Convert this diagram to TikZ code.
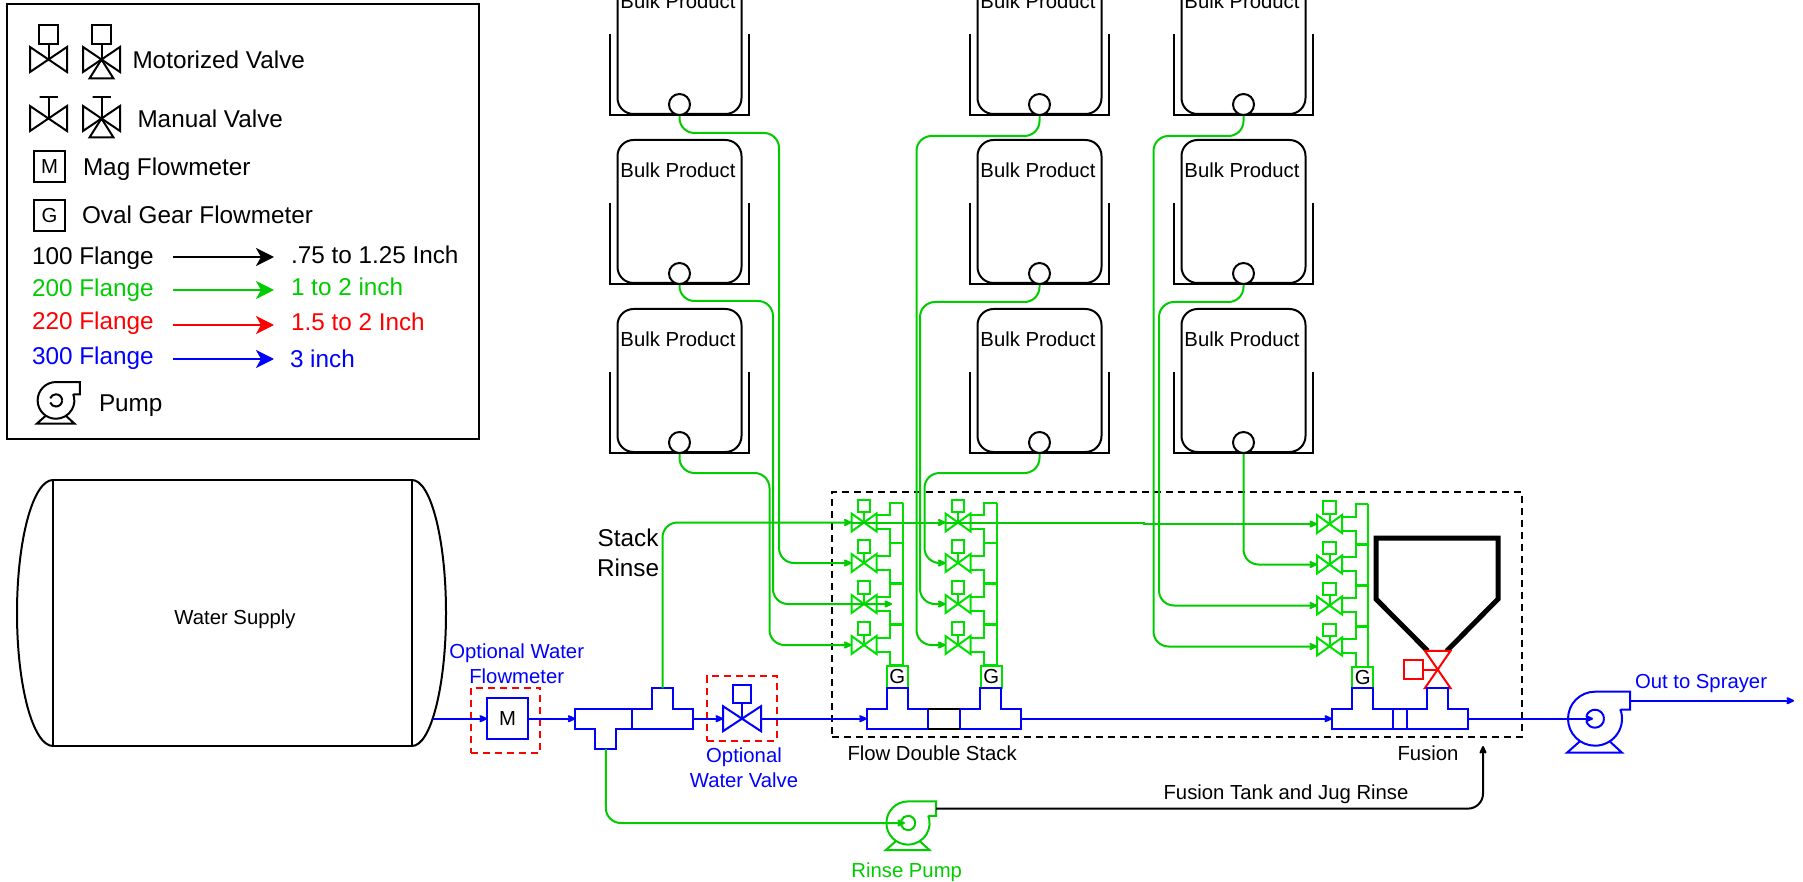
\documentclass[tikz,border=0pt]{standalone}
\usepackage{fontspec}
\setmainfont{Liberation Sans}
\usetikzlibrary{arrows.meta}
\usetikzlibrary{positioning}
\definecolor{pg}{rgb}{0,.8,0}
\definecolor{sg}{rgb}{0,.88,0}
\tikzstyle{txt}=[inner sep=0, outer sep=0, align=center, font=\fontsize{20.3}{25}\selectfont]
\tikzstyle{bigtxt}=[inner sep=0, outer sep=0, align=center, font=\fontsize{24.3}{30}\selectfont]
\tikzstyle{line}=[line width=2pt]
\tikzstyle{pipe}=[line width=2pt, rounded corners=15pt, -{Stealth[length=10pt,width=9pt,inset=2.5pt,round=false]}]
\tikzstyle{legendpipe}=[line width=2pt, -{Stealth[length=18pt,width=18pt,inset=5pt]}]
\tikzstyle{valvebox}=[inner sep=0, outer sep=0, minimum width=25pt, minimum height=18pt]
\tikzstyle{legendvalve}=[inner sep=0, outer sep=0, minimum width=37pt, minimum height=25pt]
\tikzstyle{square}=[draw, line width=2pt, inner sep=0, outer sep=0]
\tikzstyle{optbox}=[draw=red, line width=2pt, dash pattern=on 7pt off 5pt, inner sep=0]
\tikzstyle{bulktank}=[draw, line width=2pt, rounded corners=16pt, inner sep=0, minimum width=124pt, minimum height=143pt]

% name, colour
\newcommand{\drawvalve}[2]{
  \draw[line, #2] (#1.north west) -- (#1.south east) -- (#1.north east) -- (#1.south west) -- cycle;
}
% name, colour, square size, gap
\newcommand{\motorvalve}[4]{
  \drawvalve{#1}{#2}
  \node[square, draw=#2, minimum size=#3, above=#4 of #1.north] (#1m) {};
  \draw[line, #2] (#1m.south) -- (#1.center);
}
% name, dx, dy
\newcommand{\valvestack}[3]{
  \begin{scope}[shift={(#2,#3)}]
    \node[square, draw=sg, minimum width=20.7pt, minimum height=22pt] (g#1) at (897.2,676.5) {};
    \foreach \n/\y in {1/522.5, 2/563, 3/604, 4/645}{
      \node[valvebox] (v#1\n) at (864,\y) {};
      \motorvalve{v#1\n}{sg}{12.5pt}{1.5pt}
      \draw[line, sg] (876.5,\y-7.5) -| (890,\y-20) -- (902.7,\y-20);
      \draw[line, sg] (876.5,\y+6.5) -| (890,\y+20.3) -- (902.7,\y+20.3);
    }
    \draw[line, sg] (902.7,502.5) -- (902.7,665.5);
    \node[txt] (gt#1) at (g#1) {G};
  \end{scope}
}
% name, x, flip
\newcommand{\teepiece}[3]{
  \begin{scope}[shift={(#2,718.7)}, yscale=#3]
    \draw[line, blue, fill=white] (0,-9.8) -- (20,-9.8) -- (20,-30.3) -- (41,-30.3) -- (41,-9.8)
      -- (61,-9.8) -- (61,9.8) -- (0,9.8) -- cycle;
    \coordinate (#1w) at (0,0);
    \coordinate (#1e) at (61,0);
    \coordinate (#1t) at (30.5,-30.3);
  \end{scope}
}
% name, x, y, scale, colour
\newcommand{\pumpsym}[5]{
  \begin{scope}[shift={(#2,#3)}, scale=#4]
    \coordinate (#1) at (0,0);
    \coordinate (#1out) at (35,-18);
    \draw[line, #5] (35,-27) -- (0,-27) arc[start angle=90, end angle=380, radius=27pt]
      -- (25.4,-9) -- (35,-9) -- cycle;
    \draw[line, #5] (9,0) arc[start angle=0, end angle=160, radius=9pt];
    \draw[line, #5] (9,0) arc[start angle=0, end angle=-160, radius=9pt];
    \draw[line, #5] (-15,22.5) -- (-28,34) -- (27,34) -- (15,23);
  \end{scope}
}

\begin{document}
\begin{tikzpicture}[x=1pt, y=-1pt]

      \path[use as bounding box, clip] (0,0) rectangle (1803,882);

      % legend
      \node[square, minimum width=472pt, minimum height=435pt] (legend) at (243.3,221.8) {};

      \node[legendvalve] (lm1) at (48.5,59.5) {};
      \node[legendvalve] (lm2) at (101.5,59.5) {};
      \motorvalve{lm1}{black}{19pt}{3pt}
      \motorvalve{lm2}{black}{19pt}{3pt}
      \draw[line] (lm2.center) -- ++(-12,19) -- ++(24,0) -- cycle;
      \node[legendvalve] (lh1) at (48.5,118.5) {};
      \node[legendvalve] (lh2) at (101.5,118.5) {};
      \foreach \p in {lh1, lh2}{
        \drawvalve{\p}{black}
        \draw[line] (\p.center) -- ++(0,-21) -- ++(-9,0) -- ++(18,0);
      }
      \draw[line] (lh2.center) -- ++(-12,19) -- ++(24,0) -- cycle;

      \node[bigtxt, anchor=west] (lmt) at (132.5,60) {Motorized Valve};
      \node[bigtxt, anchor=west] (lht) at (137.5,119) {Manual Valve};
      \node[square, minimum size=31pt] (lmag) at (49.5,166.5) {};
      \node[txt] (lmagm) at (lmag) {M};
      \node[bigtxt, anchor=west] (lmagt) at (83,169) {Mag Flowmeter};
      \node[square, minimum size=31pt] (lgear) at (49.5,215.5) {};
      \node[txt] (lgearg) at (lgear) {G};
      \node[bigtxt, anchor=west] (lgeart) at (82,215) {Oval Gear Flowmeter};

      \foreach \n/\c/\yl/\ya/\yr/\xr/\t in {
          100/black/258/257/255/291/.75 to 1.25 Inch,
          200/pg/290/290/287/291/1 to 2 inch,
          220/red/323/325/322/291/1.5 to 2 Inch,
          300/blue/358/359/359/290/3 inch}{
        \node[bigtxt, anchor=west, text=\c] (fl\n) at (32,\yl) {\n{} Flange};
        \node[bigtxt, anchor=west, text=\c] (sz\n) at (\xr,\yr) {\t};
        \coordinate (as\n) at (173,\ya);
        \coordinate (ae\n) at (274,\ya);
        \draw[legendpipe, \c] (as\n) -- (ae\n);
      }
      \pumpsym{lpump}{56}{400.4}{.68}{black}
      \node[bigtxt, anchor=west] (lpumpt) at (99,406) {Pump};

      % water supply
      \node[square, minimum width=359pt, minimum height=266pt] (supply) at (232.5,613) {};
      \node[txt] (supplyt) at (235,619.5) {Water Supply};
      \draw[line] (supply.north west) arc[start angle=90, end angle=270, x radius=36pt, y radius=133pt];
      \draw[line] (supply.north east) arc[start angle=90, end angle=-90, x radius=34pt, y radius=133pt];
      \coordinate (supplyout) at (433,718.7);

      % bulk tanks
      \foreach \c/\x in {1/679.5, 2/1039.5, 3/1243.5}
        \foreach \r/\y in {1/42.5, 2/211.5, 3/380.5}{
          \node[bulktank] (b\c\r) at (\x,\y) {};
          \draw[line] ([xshift=-7pt,yshift=81pt]b\c\r.south west) -- ([xshift=-7pt]b\c\r.south west)
            -- ([xshift=6pt]b\c\r.south east) -- ([xshift=6pt,yshift=81pt]b\c\r.south east);
          \node[draw, line width=2pt, circle, fill=white, inner sep=0, minimum size=21pt] (o\c\r) at ([yshift=10.5pt]b\c\r.south) {};
          \node[txt] (bt\c\r) at ([xshift=-1.5pt,yshift=-31pt]b\c\r.north) {Bulk Product};
        }

      % stacks
      \node[line width=2pt, draw, dash pattern=on 7pt off 5pt, inner sep=0, minimum width=690pt, minimum height=245pt] (dashbox) at (1176.7,614.5) {};
      \node[txt, anchor=west] (flowt) at (847.5,753) {Flow Double Stack};
      \node[txt] (fusiont) at (1428,753) {Fusion};

      \valvestack{1}{0}{0}
      \valvestack{2}{94}{0}
      \valvestack{3}{465.5}{1.5}

      % hopper and its valve
      \draw[line width=5pt] (1427.7,651) -- (1376,599) -- (1376,538) -- (1498,538) -- (1498,599) -- (1446.7,651);
      \node[valvebox, minimum width=25.7pt, minimum height=37.3pt] (fv) at (1437.7,669.5) {};
      \draw[line, red] (fv.north west) -- (fv.south east) -- (fv.south west) -- (fv.north east) -- cycle;
      \node[square, draw=red, minimum size=18.7pt, left=15pt of fv.center] (fvm) {};
      \draw[line, red] (fvm.east) -- (fv.center);

      % water line
      \node[optbox, minimum width=69pt, minimum height=65.6pt] (optm) at (505.5,720.5) {};
      \node[optbox, minimum width=69.4pt, minimum height=65.3pt] (optv) at (742,708.4) {};
      \node[square, draw=blue, minimum size=41pt] (mag) at (507.5,718.7) {};
      \node[txt] (magt) at (mag) {M};
      \node[legendvalve, minimum width=38pt] (wvalve) at (742,718.7) {};
      \motorvalve{wvalve}{blue}{18pt}{3pt}

      \teepiece{teea}{575.3}{-1}
      \teepiece{teeb}{632}{1}
      \teepiece{tee1}{866.7}{1}
      \teepiece{tee2}{960.3}{1}
      \teepiece{tee3}{1332}{1}
      \teepiece{tee4}{1407.3}{1}

      \draw[line] ([yshift=9.8pt]tee1e) -- ([yshift=9.8pt]tee2w);
      \draw[line] ([yshift=-9.8pt]tee1e) -- ([yshift=-9.8pt]tee2w);
      \draw[line, blue] ([yshift=9.8pt]tee3e) -- ([yshift=9.8pt]tee4w);
      \draw[line, blue] ([yshift=-9.8pt]tee3e) -- ([yshift=-9.8pt]tee4w);

      \pumpsym{pump}{1595}{718.7}{1}{blue}
      \pumpsym{rpump}{908}{823}{.8}{pg}
      \coordinate (sprayer) at (1794,700.7);
      \coordinate (fusionin) at (1483,746);

      \draw[pipe, blue] (supplyout) -- (mag.west);
      \draw[pipe, blue] (mag.east) -- (teeaw);
      \draw[pipe, blue] (teebe) -- (wvalve.west);
      \draw[pipe, blue] (wvalve.east) -- (tee1w);
      \draw[pipe, blue] (tee2e) -- (tee3w);
      \draw[pipe, blue] (tee4e) -- ([xshift=-2pt]pump);
      \draw[pipe, blue] (pumpout) -- (sprayer);

      % rinse
      \draw[pipe, pg] (teeat) |- ([xshift=-3pt]rpump);
      \draw[pipe, black] (rpumpout) -| (fusionin);
      \draw[pipe, pg] (teebt) |- (v11.west);
      \draw[pipe, pg] (v11.west) -- (v21.west);
      \draw[pipe, pg, sharp corners] (v21.west) -- (1144,522.5) |- (v31.west);

      % bulk lines
      \coordinate (v13end) at (892,604);
      \draw[pipe, pg] (o11.south) |- (779,133) |- (v12.west);
      \draw[pipe, pg] (o12.south) |- (773,301) |- (v13end);
      \draw[pipe, pg] (o13.south) |- (769.5,473) |- (v14.west);
      \draw[pipe, pg] (o21.south) |- (916.5,136) |- (v24.west);
      \draw[pipe, pg] (o22.south) |- (920,302) |- (v23.west);
      \draw[pipe, pg] (o23.south) |- (924.5,473) |- (v22.west);
      \draw[pipe, pg] (o31.south) |- (1153.5,136) |- (v34.west);
      \draw[pipe, pg] (o32.south) |- (1159,302) |- (v33.west);
      \draw[pipe, pg] (o33.south) |- (v32.west);

      % labels
      \node[txt, text=blue] (optmt) at (516.7,664) {Optional Water\\Flowmeter};
      \node[txt, text=blue] (optvt) at (744,768) {Optional\\Water Valve};
      \node[bigtxt, anchor=west] (stackt) at (597,552.5) {Stack\\Rinse};
      \node[txt, text=pg] (rpumpt) at (906.7,872) {Rinse Pump};
      \node[txt] (jugt) at (1286,794) {Fusion Tank and Jug Rinse};
      \node[txt, text=blue] (sprayert) at (1701,684) {Out to Sprayer};

\end{tikzpicture}
\end{document}
